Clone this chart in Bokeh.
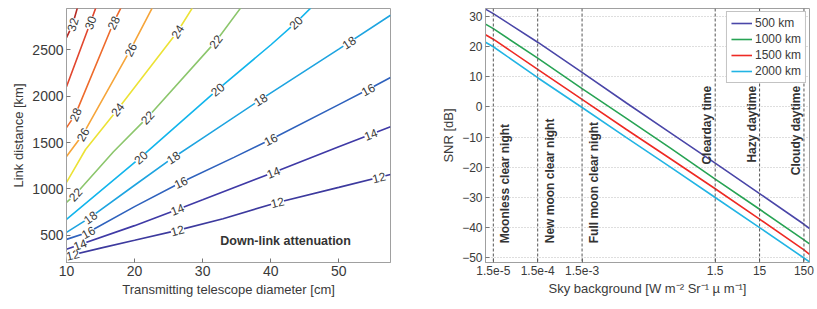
import math
import numpy as np
from bokeh.plotting import figure
from bokeh.layouts import row
from bokeh.models import (ColumnDataSource, LabelSet, FixedTicker, Span, Label,
                          CustomJSTickFormatter)
from bokeh.core.properties import value
from bokeh.embed import file_html
from bokeh.resources import INLINE

# ---------------- data: left panel (down-link attenuation contours, dB) ----------------
levels = [12, 14, 16, 18, 20, 22, 24, 26, 28, 30, 32]
contour_D = [  # transmitting telescope diameter [cm]
    [10, 15, 20, 26.3, 33, 41, 50, 57.6],
    [10, 20, 26.3, 30, 40.4, 50, 57.6],
    [10, 13.2, 20, 26.8, 34.6, 40, 50, 54.3, 57.6],
    [10, 13.5, 20, 25.7, 30, 38.5, 50, 57.6],
    [10, 20.9, 32.2, 40, 43.7, 45.9],
    [10, 11.3, 16.9, 21.9, 31.9, 35.6],
    [10, 12.8, 17.5, 26.3, 28.5],
    [10, 12.4, 19.4, 22.6],
    [10, 11.3, 16.9, 18],
    [10, 13.5, 14.3],
    [10, 10.9, 11.6],
]
contour_L = [  # link distance [km]
    [275, 363, 447, 554, 680, 855, 1017, 1155],
    [350, 605, 780, 884, 1178, 1455, 1669],
    [457, 533, 810, 1070, 1340, 1532, 1908, 2070, 2200],
    [533, 694, 1040, 1339, 1548, 1962, 2505, 2870],
    [672, 1339, 2070, 2550, 2790, 2950],
    [855, 941, 1400, 1770, 2586, 2950],
    [1070, 1425, 1855, 2693, 2950],
    [1350, 1586, 2500, 2950],
    [1660, 1800, 2790, 2950],
    [2100, 2790, 2950],
    [2630, 2770, 2950],
]
label_D = [  # diameters where the contour labels sit
    [10.9, 26.3, 41, 55.9],
    [12, 26.3, 40.4, 54.7],
    [13.2, 26.8, 40, 54.3],
    [13.5, 25.7, 38.5, 51.5],
    [20.9, 32.2, 43.7],
    [11.3, 21.9, 31.9],
    [17.5, 26.3],
    [12.4, 19.4],
    [11.3, 16.9],
    [13.5],
    [10.9],
]
contour_colors = ["#3d3a9e", "#3f3aa6", "#2f62bd", "#1ea4e0", "#12b5ec", "#8cc66c",
                  "#ece236", "#f6a53a", "#ee6b2c", "#e2462e", "#b52a24"]
left_xticks = [10, 20, 30, 40, 50]
left_yticks = [500, 1000, 1500, 2000, 2500]

# ---------------- data: right panel (SNR vs sky background) ----------------
sky = [1e-5, 1.5e-5, 1.5e-4, 1.5e-3, 1.5e-2, 0.15, 1.5, 15, 150, 200]
snr_500 = [32.5, 31.0, 21.5, 11.5, 1.3, -8.7, -18.7, -28.8, -39.0, -40.4]
snr_1000 = [27.5, 26.0, 16.2, 6.1, -3.8, -13.8, -24.0, -34.0, -44.2, -45.5]
snr_1500 = [24.0, 22.5, 12.5, 2.5, -7.5, -17.3, -27.2, -37.3, -47.5, -49.0]
snr_2000 = [21.5, 20.0, 9.7, -0.2, -10.2, -20.1, -30.1, -40.1, -50.2, -51.5]
series_names = ["500 km", "1000 km", "1500 km", "2000 km"]
series_colors = ["#4a46a8", "#27a354", "#ee2a24", "#22b4e4"]
cond_x = [1.5e-5, 1.5e-4, 1.5e-3, 1.5, 15, 150]
cond_text = ["Moonless clear night", "New moon clear night", "Full moon clear night",
             "Clearday time", "Hazy daytime", "Cloudy daytime"]
right_xticks = [1.5e-5, 1.5e-4, 1.5e-3, 1.5, 15, 150]
right_xlabels = ["1.5e-5", "1.5e-4", "1.5e-3", "1.5", "15", "150"]
right_yticks = [-50, -40, -30, -20, -10, 0, 10, 20, 30]

FONT = "Liberation Sans"
TXT = "#3a3a3a"
FRAME = "#a0a0a0"

def style_axes(p, tick_size, label_size):
    for ax in (p.xaxis, p.yaxis):
        ax.axis_line_color = FRAME
        ax.major_tick_line_color = "#777777"
        ax.major_tick_in = 4
        ax.major_tick_out = 0
        ax.minor_tick_line_color = None
        ax.major_label_text_font = FONT
        ax.major_label_text_font_size = tick_size
        ax.major_label_text_color = TXT
        ax.axis_label_text_font = FONT
        ax.axis_label_text_font_size = label_size
        ax.axis_label_text_font_style = "normal"
        ax.axis_label_text_color = TXT
        ax.major_label_standoff = 3
        ax.axis_label_standoff = 3
    p.outline_line_color = FRAME
    p.outline_line_alpha = 1.0

# ---------------- left figure ----------------
L_W, L_H = 413, 305
L_BL, L_BR, L_BT, L_BB = 66, 23, 8, 43
lx0, lx1 = 10, 57.6
ly0, ly1 = 208, 2943
p1 = figure(width=L_W, height=L_H, x_range=(lx0, lx1), y_range=(ly0, ly1),
            output_backend="svg", toolbar_location=None,
            min_border_left=L_BL, min_border_right=L_BR,
            min_border_top=L_BT, min_border_bottom=L_BB)
p1.grid.grid_line_color = None
style_axes(p1, "14px", "13px")
p1.xaxis.ticker = FixedTicker(ticks=left_xticks)
p1.yaxis.ticker = FixedTicker(ticks=left_yticks)
p1.xaxis.axis_label = "Transmitting telescope diameter [cm]"
p1.yaxis.axis_label = "Link distance [km]"

sx = (L_W - L_BL - L_BR) / (lx1 - lx0)
sy = (L_H - L_BT - L_BB) / (ly1 - ly0)

lab_x, lab_y, lab_t, lab_a = [], [], [], []
for lev, D, Lk, col, lds in zip(levels, contour_D, contour_L, contour_colors, label_D):
    p1.line(D, Lk, line_color=col, line_width=1.6)
    for d in lds:
        lv = float(np.interp(d, D, Lk))
        i = max(0, min(len(D) - 2, int(np.searchsorted(D, d, side="right")) - 1))
        ang = math.atan2((Lk[i + 1] - Lk[i]) * sy, (D[i + 1] - D[i]) * sx)
        lab_x.append(d); lab_y.append(lv); lab_t.append(str(lev)); lab_a.append(ang)

lsrc = ColumnDataSource(dict(x=lab_x, y=lab_y, t=lab_t, a=lab_a))
p1.add_layout(LabelSet(x="x", y="y", text="t", angle="a", source=lsrc,
                       text_align="center", text_baseline="middle",
                       text_font=value(FONT), text_font_size="12px", text_color=TXT,
                       background_fill_color="white", background_fill_alpha=1.0))
p1.add_layout(Label(x=32.6, y=436, text="Down-link attenuation", text_font=FONT,
                    text_font_size="12.5px", text_font_style="bold", text_color="#333333",
                    text_align="left", text_baseline="middle"))

# ---------------- right figure ----------------
R_W, R_H = 402, 305
R_BL, R_BR, R_BT, R_BB = 72, 6, 8, 43
p2 = figure(width=R_W, height=R_H, x_axis_type="log", x_range=(1e-5, 200),
            y_range=(-51.7, 32.7), output_backend="svg", toolbar_location=None,
            min_border_left=R_BL, min_border_right=R_BR,
            min_border_top=R_BT, min_border_bottom=R_BB)
style_axes(p2, "12px", "13px")
p2.xgrid.grid_line_color = None
p2.ygrid.grid_line_color = "#bdbdbd"
p2.ygrid.grid_line_dash = "1 2"
p2.xaxis.ticker = FixedTicker(ticks=right_xticks)
p2.xaxis.formatter = CustomJSTickFormatter(
    args=dict(tv=right_xticks, tl=right_xlabels),
    code="for (let i = 0; i < tv.length; i++) { if (Math.abs(tv[i] - tick) <= 1e-6 * tv[i]) return tl[i]; } return '';")
p2.yaxis.ticker = FixedTicker(ticks=right_yticks)
p2.xaxis.axis_label = "Sky background [W m\u207b\u00b2 Sr\u207b\u00b9 \u00b5 m\u207b\u00b9]"
p2.yaxis.axis_label = "SNR [dB]"

for cx in cond_x:
    p2.add_layout(Span(location=cx, dimension="height", line_color="#555555",
                       line_dash="3 2", line_width=1))

night = ColumnDataSource(dict(x=cond_x[:3], y=[-45.3] * 3, t=cond_text[:3]))
day = ColumnDataSource(dict(x=cond_x[3:], y=[7.0] * 3, t=cond_text[3:]))
p2.add_layout(LabelSet(x="x", y="y", text="t", source=night, angle=math.pi / 2,
                       x_offset=12, text_align="left", text_baseline="middle",
                       text_font=value(FONT), text_font_size="12px",
                       text_font_style="bold", text_color="#333333"))
p2.add_layout(LabelSet(x="x", y="y", text="t", source=day, angle=math.pi / 2,
                       x_offset=-8, text_align="right", text_baseline="middle",
                       text_font=value(FONT), text_font_size="12px",
                       text_font_style="bold", text_color="#333333"))

for ys, name, col in zip([snr_500, snr_1000, snr_1500, snr_2000], series_names, series_colors):
    p2.line(sky, ys, line_color=col, line_width=1.6, legend_label=name)

lg = p2.legend[0]
lg.location = "top_right"
lg.margin = 3
lg.padding = 4
lg.spacing = 2
lg.glyph_width = 21
lg.glyph_height = 14
lg.label_height = 14
lg.label_standoff = 3
lg.label_text_font = FONT
lg.label_text_font_size = "12px"
lg.label_text_color = TXT
lg.border_line_color = "#888888"
lg.background_fill_color = "white"
lg.background_fill_alpha = 1.0

layout = row(p1, p2)
open("out.html", "w").write(file_html(layout, INLINE))
